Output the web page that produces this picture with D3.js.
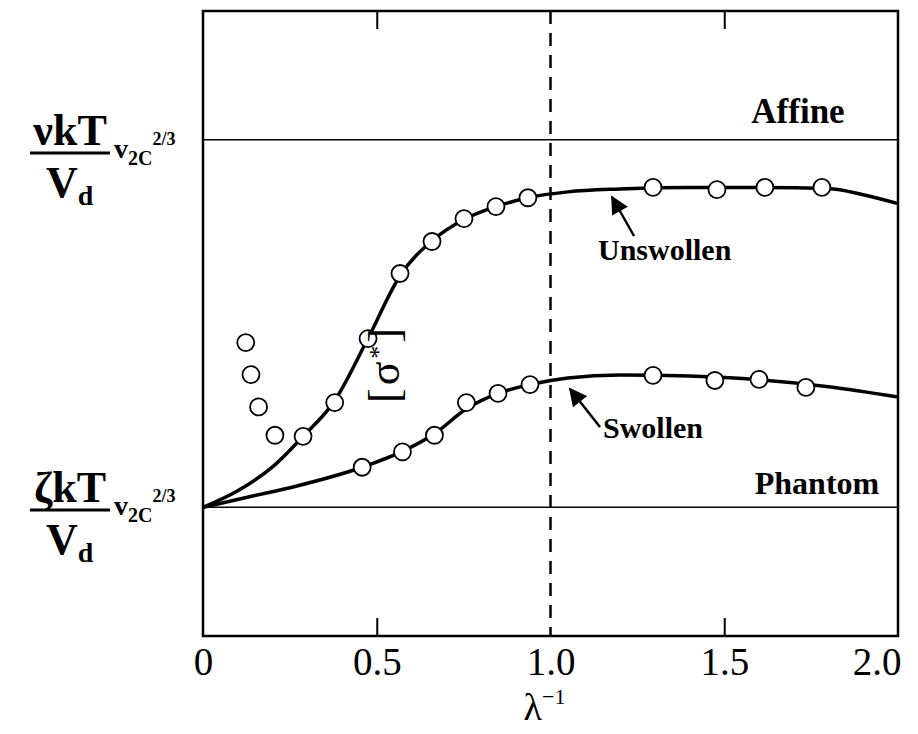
<!DOCTYPE html>
<html>
<head>
<meta charset="utf-8">
<script src="https://cdn.jsdelivr.net/npm/d3@7"></script>
<style>
  body { margin: 0; background: #fff; }
  svg { display: block; }
  text { font-family: "Liberation Serif", "Times New Roman", serif; fill: #000; }
</style>
</head>
<body>
<svg id="chart"></svg>
<script>
// data (y: Phantom = 0, Affine = 1)
const xTicks = [0, 0.5, 1.0, 1.5, 2.0];
const xTickLabels = ["0", "0.5", "1.0", "1.5", "2.0"];
const innerTicks = [0.5, 1.5];
const refLevels = [1, 0];
const refNames = ["Affine", "Phantom"];

// low-λ⁻¹ points not on a curve
const strayPts = [[0.123, 0.448], [0.138, 0.361], [0.160, 0.273], [0.207, 0.196]];
const unswollenPts = [
  [0.288, 0.193], [0.379, 0.285], [0.475, 0.459], [0.567, 0.636], [0.659, 0.723],
  [0.751, 0.785], [0.843, 0.818], [0.935, 0.842], [1.295, 0.870], [1.479, 0.864],
  [1.617, 0.870], [1.781, 0.870]
];
const swollenPts = [
  [0.458, 0.109], [0.574, 0.151], [0.666, 0.196], [0.758, 0.285], [0.849, 0.310],
  [0.941, 0.334], [1.295, 0.359], [1.473, 0.345], [1.600, 0.348], [1.735, 0.326]
];
// the drawn curves
const unswollenFit = [
  [0, 0], [0.1, 0.045], [0.2, 0.11], [0.288, 0.193], [0.379, 0.29], [0.475, 0.46],
  [0.567, 0.63], [0.659, 0.725], [0.751, 0.783], [0.843, 0.818], [0.935, 0.842],
  [1.05, 0.858], [1.2, 0.866], [1.4, 0.870], [1.6, 0.870], [1.8, 0.867], [1.9, 0.850], [2.0, 0.826]
];
const swollenFit = [
  [0, 0], [0.14, 0.03], [0.27, 0.058], [0.458, 0.109], [0.574, 0.152], [0.666, 0.2],
  [0.758, 0.268], [0.849, 0.31], [0.941, 0.334], [1.05, 0.352], [1.2, 0.36],
  [1.4, 0.357], [1.6, 0.347], [1.8, 0.328], [2.0, 0.30]
];

const W = 918, H = 734;
const svg = d3.select('#chart').attr('width', W).attr('height', H);

// scales
const pLeft = 203, pRight = 898, pTop = 11, pBottom = 636;
const x = d3.scaleLinear().domain([0, 2]).range([pLeft, pRight]);
const y = d3.scaleLinear().domain([-0.35, 1.35]).range([pBottom, pTop]);

// frame
svg.append('rect')
  .attr('x', pLeft).attr('y', pTop)
  .attr('width', pRight - pLeft).attr('height', pBottom - pTop)
  .attr('fill', 'none').attr('stroke', '#000').attr('stroke-width', 2.5);

// inward ticks top and bottom
svg.append('g')
  .attr('transform', `translate(0,${pBottom})`)
  .call(d3.axisBottom(x).tickValues(innerTicks).tickSize(-18).tickFormat(''))
  .call(g => g.select('.domain').remove())
  .call(g => g.selectAll('line').attr('stroke-width', 2));
svg.append('g')
  .attr('transform', `translate(0,${pTop})`)
  .call(d3.axisTop(x).tickValues(innerTicks).tickSize(-18).tickFormat(''))
  .call(g => g.select('.domain').remove())
  .call(g => g.selectAll('line').attr('stroke-width', 2));

// tick labels
const xAxis = svg.append('g')
  .attr('transform', `translate(0,${pBottom})`)
  .call(d3.axisBottom(x).tickValues(xTicks).tickSize(0).tickPadding(0)
    .tickFormat((d, i) => xTickLabels[i]));
xAxis.select('.domain').remove();
xAxis.selectAll('text')
  .attr('y', 39)
  .attr('dy', 0)
  .style('font-family', '"Liberation Serif", serif')
  .style('font-size', '39px')
  .attr('fill', '#000');
xAxis.selectAll('.tick').filter(d => d === 2).select('text')
  .attr('text-anchor', 'end').attr('x', 3);

// axis title λ⁻¹
svg.append('text')
  .attr('x', x(1) - 6).attr('y', 720)
  .attr('text-anchor', 'middle')
  .style('font-size', '38px')
  .text('λ')
  .append('tspan').attr('dy', -16).style('font-size', '22px').text('−1');

// reference levels
svg.selectAll('.ref')
  .data(refLevels)
  .join('line')
  .attr('x1', pLeft).attr('x2', pRight)
  .attr('y1', d => y(d)).attr('y2', d => y(d))
  .attr('stroke', '#000').attr('stroke-width', 1.5);

svg.selectAll('.refname')
  .data(refNames)
  .join('text')
  .attr('x', (d, i) => i === 0 ? 798 : 817)
  .attr('y', (d, i) => y(refLevels[i]) - (i === 0 ? 17 : 13))
  .attr('text-anchor', 'middle')
  .style('font-size', (d, i) => i === 0 ? '35px' : '32px')
  .style('font-weight', 'bold')
  .text(d => d);

// dashed line at λ⁻¹ = 1
svg.append('line')
  .attr('x1', x(1)).attr('x2', x(1))
  .attr('y1', pTop).attr('y2', pBottom)
  .attr('stroke', '#000').attr('stroke-width', 2.5)
  .attr('stroke-dasharray', '13,9');

// curves
const line = d3.line()
  .x(d => x(d[0])).y(d => y(d[1]))
  .curve(d3.curveMonotoneX);

[unswollenFit, swollenFit].forEach(s => {
  svg.append('path')
    .datum(s)
    .attr('d', line)
    .attr('fill', 'none')
    .attr('stroke', '#000')
    .attr('stroke-width', 3.5);
});

// circles
svg.append('g')
  .selectAll('circle')
  .data([...strayPts, ...unswollenPts, ...swollenPts])
  .join('circle')
  .attr('cx', d => x(d[0]))
  .attr('cy', d => y(d[1]))
  .attr('r', 8.5)
  .attr('fill', '#fff')
  .attr('stroke', '#000')
  .attr('stroke-width', 1.8);

// arrows with labels
const defs = svg.append('defs');
defs.append('marker')
  .attr('id', 'head')
  .attr('viewBox', '0 0 10 10')
  .attr('refX', 9).attr('refY', 5)
  .attr('markerWidth', 20).attr('markerHeight', 18)
  .attr('markerUnits', 'userSpaceOnUse')
  .attr('orient', 'auto')
  .append('path').attr('d', 'M0,0 L10,5 L0,10 Z').attr('fill', '#000');

function note(tail, tip, label, lx, ly) {
  svg.append('line')
    .attr('x1', tail[0]).attr('y1', tail[1])
    .attr('x2', tip[0]).attr('y2', tip[1])
    .attr('stroke', '#000').attr('stroke-width', 2.5)
    .attr('marker-end', 'url(#head)');
  svg.append('text')
    .attr('x', lx).attr('y', ly)
    .style('font-size', '30px')
    .style('font-weight', 'bold')
    .text(label);
}
note([634, 236], [612, 197], 'Unswollen', 598, 260);
note([600, 427], [570, 389], 'Swollen', 603, 438);

// y axis title [σ*]
const yt = svg.append('text')
  .attr('transform', 'translate(399,364) rotate(-90)')
  .attr('text-anchor', 'middle')
  .style('font-size', '44px')
  .style('letter-spacing', '3px');
yt.append('tspan').text('[σ');
yt.append('tspan').attr('dy', -12).style('font-size', '26px').text('*');
yt.append('tspan').attr('dy', 12).text(']');

// left side level labels
function levelLabel(sym, cy) {
  const g = svg.append('g').style('font-weight', 'bold');
  g.append('text')
    .attr('x', 70).attr('y', cy - 8)
    .attr('text-anchor', 'middle')
    .style('font-size', '44px')
    .text(sym + 'kT');
  g.append('line')
    .attr('x1', 30).attr('x2', 110)
    .attr('y1', cy).attr('y2', cy)
    .attr('stroke', '#000').attr('stroke-width', 3);
  const v = g.append('text')
    .attr('x', 46).attr('y', cy + 44)
    .style('font-size', '44px')
    .text('V');
  v.append('tspan').attr('dy', 8).style('font-size', '28px').text('d');
  const c = g.append('text')
    .attr('x', 114).attr('y', cy + 5)
    .style('font-size', '28px')
    .text('v');
  c.append('tspan').attr('dy', 7).style('font-size', '20px').text('2C');
  c.append('tspan').attr('dy', -20).style('font-size', '18px').text('2/3');
}
levelLabel('ν', 153);
levelLabel('ζ', 510);
</script>
</body>
</html>
